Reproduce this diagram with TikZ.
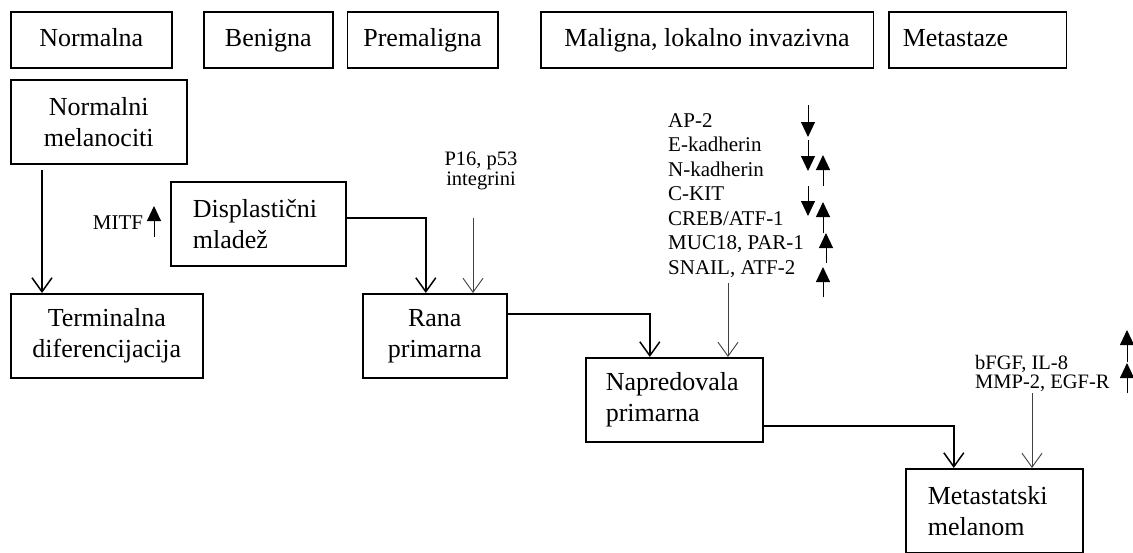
\documentclass[tikz,border=0pt]{standalone}
\usepackage{fontspec}
\setmainfont{Liberation Serif}
\usetikzlibrary{arrows.meta}
\begin{document}
\begin{tikzpicture}[x=1pt,y=-1pt,
  box/.style={draw, line width=1.6pt, inner sep=0pt, font=\fontsize{26}{31}\selectfont, align=center},
  topbox/.style={box, text height=19pt, text depth=5pt, minimum height=56, anchor=north west},
  lbox/.style={draw, line width=1.6pt, inner ysep=0pt, font=\fontsize{26}{31}\selectfont, align=left},
  small/.style={inner sep=0pt, font=\fontsize{21}{24.5}\selectfont, align=left},
  conn/.style={line width=1.5pt, -{Straight Barb[length=14pt,width=20pt,line width=1.5pt]}},
  thinconn/.style={line width=0.9pt, draw=black!75, -{Straight Barb[length=14pt,width=20pt,line width=0.9pt]}},
  fillarrow/.style={line width=1pt, -{Triangle[length=15pt,width=14pt]}},
]
\useasboundingbox (0,0) rectangle (1133,552);
% top row
\node[topbox, minimum width=161] (normalna) at (10,11) {Normalna};
\node[topbox, minimum width=129] (benigna) at (203,11) {Benigna};
\node[topbox, minimum width=150.5] (premaligna) at (346.5,11) {Premaligna};
\node[topbox, minimum width=332.5] (maligna) at (540,11) {Maligna, lokalno invazivna};
\node[topbox, align=left, minimum width=177.5, inner xsep=14pt, text width=149.5pt] (metastaze) at (888,11) {Metastaze};
% stage boxes
\node[box, minimum width=176, minimum height=84, anchor=north west] (nm) at (10,79) {Normalni\\melanociti};
\node[box, minimum width=192, minimum height=84, anchor=north west] (td) at (10,293) {Terminalna\\diferencijacija};
\node[lbox, minimum width=175, minimum height=84, inner xsep=22pt, text width=131pt, anchor=north west] (dm) at (170,181) {Displastični\\mladež};
\node[box, minimum width=144, minimum height=84, anchor=north west] (rp) at (362,293) {Rana\\primarna};
\node[lbox, minimum width=177, minimum height=84, inner xsep=20pt, text width=137pt, anchor=north west] (np) at (585,357) {Napredovala\\primarna};
\node[lbox, minimum width=177, minimum height=84, inner xsep=22pt, text width=133pt, anchor=north west] (mm) at (905,468) {Metastatski\\melanom};
% labels
\node[small, anchor=center] (mitf) at (118,223) {MITF};
\node[small, align=center, font=\fontsize{20.5}{19.5}\selectfont] (p16) at (481,171) {P16, p53\\integrini};
\node[small, anchor=west] (list) at (668,195.5) {AP-2\\E-kadherin\\N-kadherin\\C-KIT\\CREB/ATF-1\\MUC18, PAR-1\\SNAIL, ATF-2};
\node[small, anchor=west, font=\fontsize{20.5}{19.5}\selectfont] (bfgf) at (975,373.5) {bFGF, IL-8\\MMP-2, EGF-R};
% connectors
\coordinate (a1) at (42,170);
\draw[conn] (a1) -- (a1 |- td.north);
\draw[conn] ([yshift=6pt]dm.east) -| ([xshift=-9pt]rp.north);
\coordinate (a2) at (473,218);
\draw[thinconn] (a2) -- (a2 |- rp.north);
\draw[conn] ([yshift=22pt]rp.east) -| ([xshift=-24.5pt]np.north);
\coordinate (a3) at (728,283);
\draw[thinconn] (a3) -- (a3 |- np.north);
\draw[conn] ([yshift=-26pt]np.east) -| ([xshift=-40.5pt]mm.north);
\coordinate (a4) at (1032,393);
\draw[thinconn] (a4) -- (a4 |- mm.north);
% up/down arrows
\draw[fillarrow] (154,237) -- (154,206);
\draw[fillarrow] (808,105) -- (808,137);
\draw[fillarrow] (808,140) -- (808,171);
\draw[fillarrow] (823,186) -- (823,155);
\draw[fillarrow] (808,186) -- (808,216);
\draw[fillarrow] (823,233) -- (823,202);
\draw[fillarrow] (826,263) -- (826,233);
\draw[fillarrow] (823,297) -- (823,267);
\draw[fillarrow] (1127,362) -- (1127,330);
\draw[fillarrow] (1127,393) -- (1127,363);
\end{tikzpicture}
\end{document}
